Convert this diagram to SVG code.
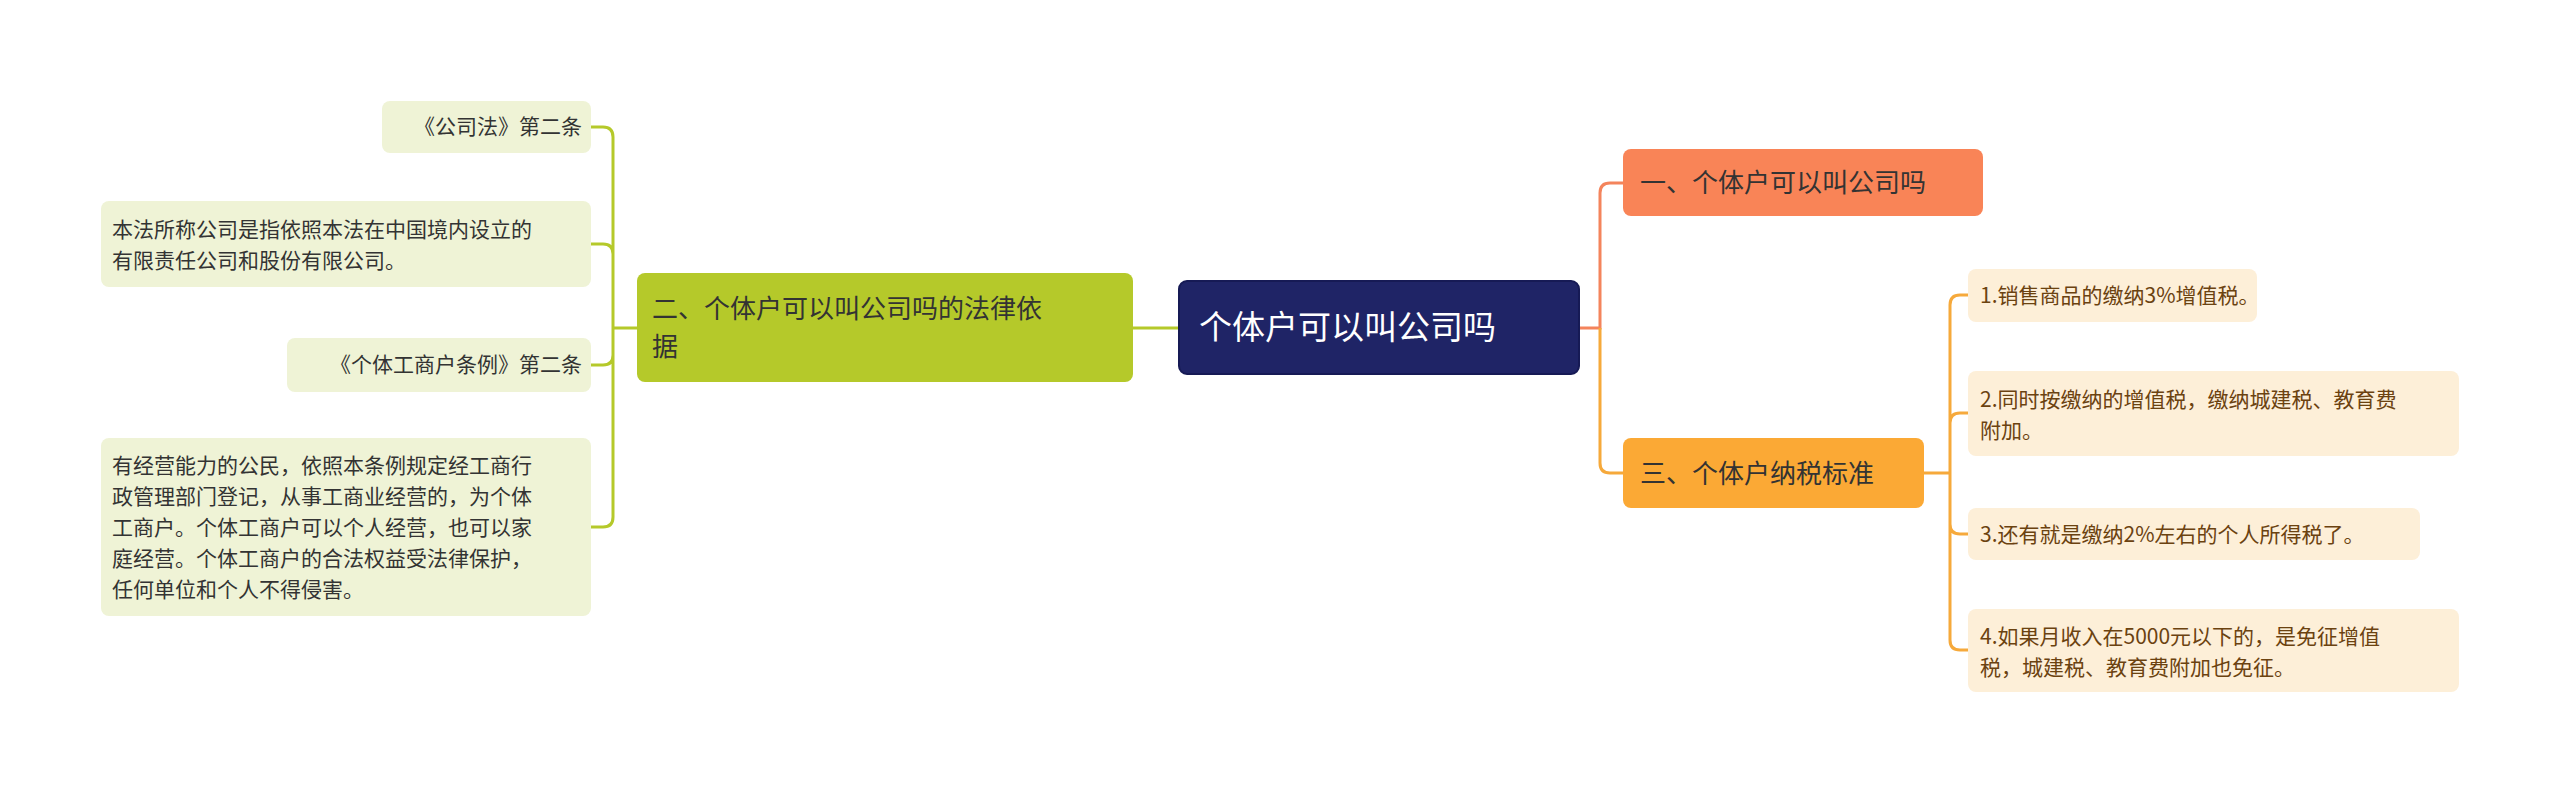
<svg xmlns="http://www.w3.org/2000/svg" width="2560" height="793" viewBox="0 0 2560 793">
<style>
text{font-family:"Noto Sans CJK SC","Noto Sans",sans-serif}
.c{fill:none;stroke-width:3}
.g{stroke:#b5c92a}.o{stroke:#f4845c}.y{stroke:#f6a93b}
.ll{fill:#eff3d6}.rl{fill:#fdefd8}
.lt{font-size:21px;fill:#333}.rt{font-size:21px;fill:#6b4210}
.bt{font-size:26px;fill:#333}
</style>
<rect width="2560" height="793" fill="#fff"/>
<g id="connectors">
<path class="c g" d="M1179 328H1133"/>
<path class="c g" d="M637 328H613M613 328V137Q613 127 603 127H591M613 328V254Q613 244 603 244H591M613 328V355Q613 365 603 365H591M613 328V517Q613 527 603 527H591"/>
<path class="c o" d="M1579 328H1600V193Q1600 183 1610 183H1623"/>
<path class="c y" d="M1600 328V463Q1600 473 1610 473H1623"/>
<path class="c y" d="M1924 473H1950M1950 473V305Q1950 295 1960 295H1968M1950 473V423Q1950 413 1960 413H1968M1950 473V524Q1950 534 1960 534H1968M1950 473V640Q1950 650 1960 650H1968"/>
</g>
<g id="center"><rect x="1179" y="281" width="400" height="93" rx="8" fill="#1f2466" stroke="#161a55" stroke-width="2"/><text x="1199" y="339" font-size="33" fill="#fff">个体户可以叫公司吗</text></g>
<g id="b1"><rect x="1623" y="149" width="360" height="67" rx="8" fill="#f98457"/><text x="1640" y="192" class="bt">一、个体户可以叫公司吗</text></g>
<g id="b3"><rect x="1623" y="438" width="301" height="70" rx="8" fill="#fba935"/><text x="1640" y="483" class="bt">三、个体户纳税标准</text></g>
<g id="b2"><rect x="637" y="273" width="496" height="109" rx="8" fill="#b5c92a"/><text x="652" y="318" class="bt">二、个体户可以叫公司吗的法律依</text><text x="652" y="356" class="bt">据</text></g>
<g id="l1"><rect x="382" y="101" width="209" height="52" rx="8" class="ll"/><text x="582" y="134" class="lt" text-anchor="end">《公司法》第二条</text></g>
<g id="l2"><rect x="101" y="201" width="490" height="86" rx="8" class="ll"/><text x="112" y="237" class="lt">本法所称公司是指依照本法在中国境内设立的</text><text x="112" y="268" class="lt">有限责任公司和股份有限公司。</text></g>
<g id="l3"><rect x="287" y="338" width="304" height="54" rx="8" class="ll"/><text x="582" y="372" class="lt" text-anchor="end">《个体工商户条例》第二条</text></g>
<g id="l4"><rect x="101" y="438" width="490" height="178" rx="8" class="ll"/>
<text class="lt"><tspan x="112" y="473">有经营能力的公民，依照本条例规定经工商行</tspan><tspan x="112" y="504">政管理部门登记，从事工商业经营的，为个体</tspan><tspan x="112" y="535">工商户。个体工商户可以个人经营，也可以家</tspan><tspan x="112" y="566">庭经营。个体工商户的合法权益受法律保护，</tspan><tspan x="112" y="597">任何单位和个人不得侵害。</tspan></text></g>
<g id="r1"><rect x="1968" y="269" width="289" height="53" rx="8" class="rl"/><text x="1980" y="303" class="rt">1.销售商品的缴纳3%增值税。</text></g>
<g id="r2"><rect x="1968" y="371" width="491" height="85" rx="8" class="rl"/><text x="1980" y="407" class="rt">2.同时按缴纳的增值税，缴纳城建税、教育费</text><text x="1980" y="438" class="rt">附加。</text></g>
<g id="r3"><rect x="1968" y="508" width="452" height="52" rx="8" class="rl"/><text x="1980" y="542" class="rt">3.还有就是缴纳2%左右的个人所得税了。</text></g>
<g id="r4"><rect x="1968" y="609" width="491" height="83" rx="8" class="rl"/><text x="1980" y="644" class="rt">4.如果月收入在5000元以下的，是免征增值</text><text x="1980" y="675" class="rt">税，城建税、教育费附加也免征。</text></g>
</svg>
